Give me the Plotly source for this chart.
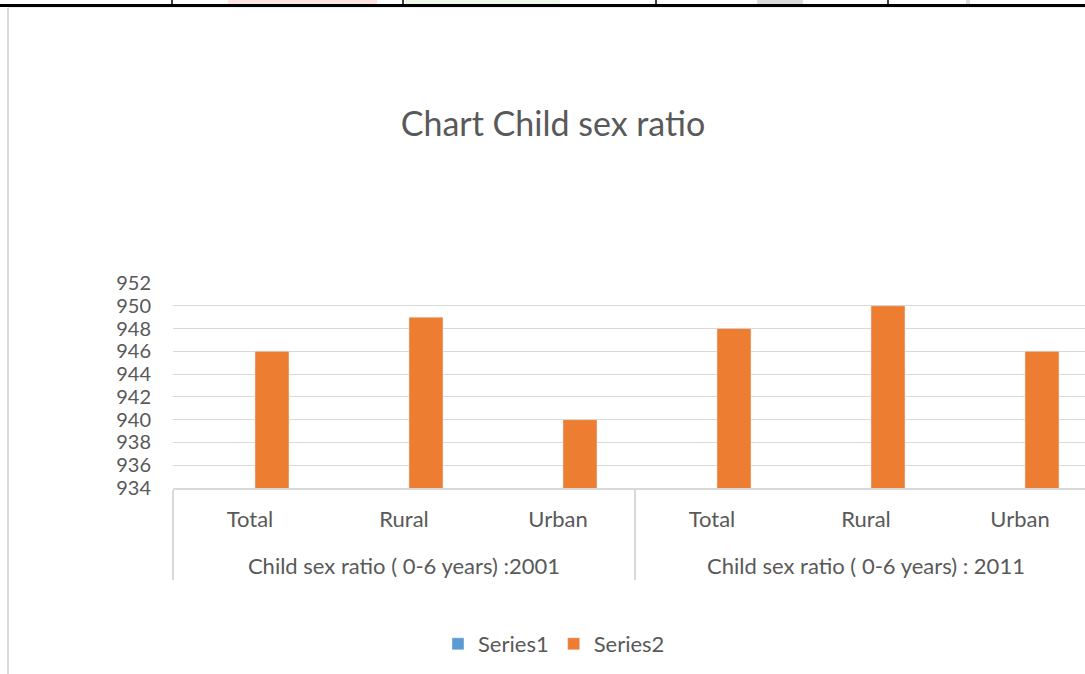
import plotly.graph_objects as go

# ---- data ----
groups = ["Child sex ratio ( 0-6 years) :2001"] * 3 + ["Child sex ratio ( 0-6 years) : 2011"] * 3
areas = ["Total", "Rural", "Urban", "Total", "Rural", "Urban"]
series1 = [None, None, None, None, None, None]
series2 = [946, 949, 940, 948, 950, 946]
y_ticks = [934, 936, 938, 940, 942, 944, 946, 948, 950, 952]

W, H = 1085, 674
L, R, T, B = 173, 0, 283, 186
PW, PH = W - L - R, H - T - B

def px(x):
    return (x - L) / PW

def py(y):
    return (H - B - y) / PH

FONT = "Lato"
TXT = "#595959"
GRID = "#D9D9D9"

# sub-category labels get an empty second line so the group row sits lower (as in Excel)
area_labels = [a + "<br>\u00a0" for a in areas]

fig = go.Figure()
fig.add_trace(go.Bar(x=[groups, area_labels], y=series1, name="Series1",
                     marker_color="#5B9BD5"))
fig.add_trace(go.Bar(x=[groups, area_labels], y=series2, name="Series2",
                     marker_color="#ED7D31"))

shapes = []
# document table remnants at the top
shapes.append(dict(type="rect", xref="paper", yref="paper", x0=px(228), x1=px(377),
                   y0=py(0), y1=py(4), fillcolor="#FFE3E3", line_width=0, layer="below"))
shapes.append(dict(type="rect", xref="paper", yref="paper", x0=px(405), x1=px(560),
                   y0=py(0), y1=py(4), fillcolor="#EFF8E7", line_width=0, layer="below"))
shapes.append(dict(type="rect", xref="paper", yref="paper", x0=px(757), x1=px(803),
                   y0=py(0), y1=py(4), fillcolor="#DADADA", line_width=0, layer="below"))
shapes.append(dict(type="rect", xref="paper", yref="paper", x0=px(966), x1=px(970),
                   y0=py(0), y1=py(4), fillcolor="#DDDDDD", line_width=0, layer="below"))
shapes.append(dict(type="line", xref="paper", yref="paper", x0=px(0), x1=px(W),
                   y0=py(5.5), y1=py(5.5), line=dict(color="black", width=3)))
for vx in [172, 403, 656, 888]:
    shapes.append(dict(type="line", xref="paper", yref="paper", x0=px(vx), x1=px(vx),
                       y0=py(0), y1=py(5), line=dict(color="black", width=1.5)))
# chart frame
shapes.append(dict(type="line", xref="paper", yref="paper", x0=px(8), x1=px(8),
                   y0=py(8), y1=py(H), line=dict(color=GRID, width=2)))
shapes.append(dict(type="line", xref="paper", yref="paper", x0=px(8), x1=px(W),
                   y0=py(7.5), y1=py(7.5), line=dict(color="#EEEEEE", width=1)))

fig.update_layout(
    width=W, height=H,
    margin=dict(l=L, r=R, t=T, b=B),
    paper_bgcolor="white", plot_bgcolor="white",
    barmode="group", bargap=0.4286, bargroupgap=0.227,
    title=dict(text="Chart Child sex ratio", x=px(553), xref="paper", xanchor="center",
               y=1 - 124 / H, yanchor="middle",
               font=dict(family=FONT, size=34, color=TXT)),
    font=dict(family=FONT, size=22, color=TXT),
    xaxis=dict(range=[-0.5, -0.5 + PW / 154], showgrid=False,
               showline=True, linecolor=GRID, linewidth=1.5,
               dividercolor=GRID, dividerwidth=1.5, ticklabelstandoff=11,
               tickfont=dict(family=FONT, size=22, color=TXT)),
    yaxis=dict(range=[934, 952], tickvals=y_ticks, showgrid=True, gridcolor=GRID,
               gridwidth=1.3, zeroline=False, showline=False, ticks="",
               ticklabelstandoff=21,
               tickfont=dict(family=FONT, size=20, color=TXT)),
    legend=dict(orientation="h", x=px(554), xanchor="center", y=py(644), yanchor="middle",
                font=dict(family=FONT, size=22, color=TXT), itemwidth=30,
                traceorder="normal"),
    shapes=shapes,
)

fig.write_html("out.html")
